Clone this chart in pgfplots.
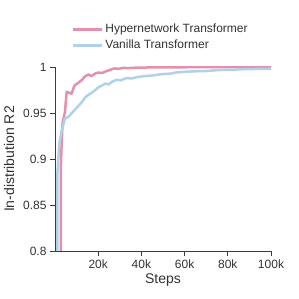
\documentclass[border=0pt]{standalone}
\usepackage{pgfplots}
\pgfplotsset{compat=1.18}
\usepackage{fontspec}
\setmainfont{Liberation Sans}
\definecolor{hpink}{RGB}{230,143,172}
\definecolor{vblue}{RGB}{175,210,233}
\definecolor{axgray}{RGB}{60,60,60}
\definecolor{txtgray}{RGB}{50,50,50}
\begin{document}
\begin{tikzpicture}
\begin{axis}[
  scale only axis,
  width=216bp, height=184bp,
  xmin=0, xmax=100000, ymin=0.8, ymax=1.0,
  axis x line*=bottom, axis y line*=left,
  axis line style={axgray, line width=0.8bp},
  tick style={axgray, line width=0.8bp},
  tick align=outside, major tick length=5bp,
  xtick={20000,40000,60000,80000,100000},
  xticklabels={20k,40k,60k,80k,100k},
  ytick={0.8,0.85,0.9,0.95,1},
  yticklabels={0.8,0.85,0.9,0.95,1},
  scaled x ticks=false,
  ticklabel style={font=\fontsize{12bp}{14bp}\selectfont, text=txtgray},
  label style={font=\fontsize{14bp}{16bp}\selectfont, text=txtgray},
  xlabel={Steps}, ylabel={In-distribution R2},
  xlabel style={yshift=1bp},
  ylabel style={yshift=2bp},
  /pgf/number format/assume math mode=true,
  legend style={draw=none, fill=none, at={(rel axis cs:0.075,1.245)}, anchor=north west,
    font=\fontsize{12bp}{14bp}\selectfont, text=txtgray, row sep=2bp,
    legend cell align=left, inner sep=0pt, nodes={inner sep=2bp}},
  legend image code/.code={\draw[#1, line width=3bp] (0bp,0bp) -- (29bp,0bp);},
  every axis plot/.append style={line width=2.5bp, line join=round},
]
\addplot[hpink, no markers] coordinates {
(1000,0.2) (2500,0.3) (2700,0.89) (3000,0.912) (3500,0.939) (4600,0.951) (5400,0.973)
(6500,0.972) (7700,0.971) (8400,0.976) (9100,0.980) (10900,0.983) (12500,0.986)
(14000,0.990) (15600,0.992) (16800,0.990) (18700,0.993) (20200,0.994) (21800,0.9935)
(23300,0.995) (25600,0.997) (27500,0.9985) (29500,0.998) (31500,0.999) (34000,0.9988)
(37000,0.9992) (40000,0.9994) (45000,0.9995) (50000,0.9996) (55000,0.9997) (60000,0.9997)
(65000,0.9998) (70000,0.9998) (75000,0.9998) (80000,0.9998) (85000,0.9998) (90000,0.9998) (95000,0.9998) (100000,0.9998)
};
\addlegendentry{Hypernetwork Transformer}
\addplot[vblue, no markers] coordinates {
(500,0.2) (1000,0.3) (1150,0.885) (2000,0.917) (3000,0.93) (4600,0.944) (6300,0.946)
(7800,0.950) (9400,0.954) (11000,0.958) (12500,0.962) (14000,0.967) (15600,0.970)
(17000,0.972) (18700,0.975) (20200,0.978) (21800,0.980) (23300,0.982) (24800,0.981)
(26400,0.984) (28500,0.986) (30500,0.9855) (33000,0.988) (35500,0.9875) (38000,0.989)
(41000,0.990) (43500,0.9905) (46000,0.991) (48600,0.992) (51000,0.9925) (53500,0.9928)
(56000,0.994) (58500,0.9945) (61500,0.995) (64000,0.9952) (66500,0.9955) (69000,0.9955)
(72000,0.996) (75000,0.9965) (78000,0.9968) (81000,0.997) (83000,0.997) (86000,0.9975)
(89000,0.9977) (92000,0.9978) (95000,0.998) (98600,0.998) (100000,0.998)
};
\addlegendentry{Vanilla Transformer}
\coordinate (ll) at (rel axis cs:0,0);
\coordinate (ur) at (rel axis cs:1,1);
\end{axis}
\path (ll) ++(-55bp,-48bp) rectangle ([shift={(28bp,67bp)}]ur);
\end{tikzpicture}
\end{document}
